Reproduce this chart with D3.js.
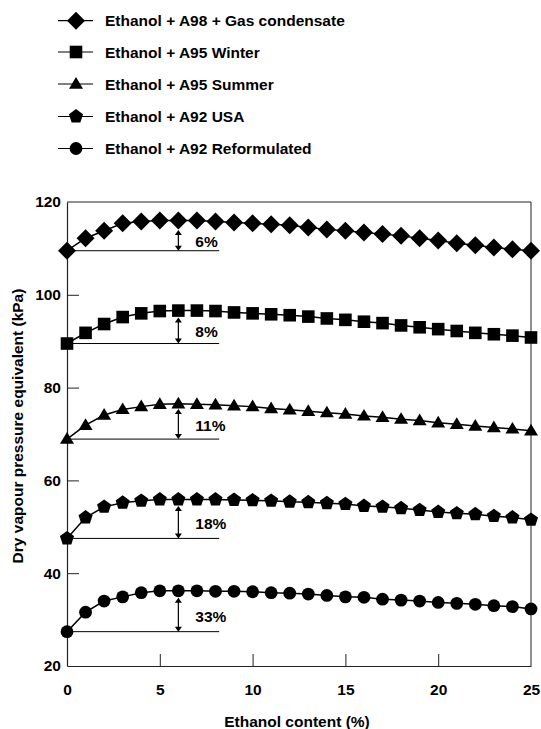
<!DOCTYPE html>
<html>
<head>
<meta charset="utf-8">
<script src="https://cdn.jsdelivr.net/npm/d3@7"></script>
<style>
  html, body { margin: 0; padding: 0; background: #fff; }
  svg { display: block; }
  text { font-family: "Liberation Sans", Arial, sans-serif; font-weight: bold; fill: #000; }
</style>
</head>
<body>
<svg id="chart" width="541" height="729"></svg>
<script>
const ethanol = [0,1,2,3,4,5,6,7,8,9,10,11,12,13,14,15,16,17,18,19,20,21,22,23,24,25];
const seriesNames = ["Ethanol + A98 + Gas condensate", "Ethanol + A95 Winter", "Ethanol + A95 Summer", "Ethanol + A92 USA", "Ethanol + A92 Reformulated"];
const a98Gas = [109.5,112.2,113.8,115.4,115.8,116.0,116.0,116.0,115.8,115.6,115.4,115.2,115.0,114.5,114.1,113.8,113.4,113.1,112.7,112.2,111.7,111.1,110.7,110.2,109.8,109.5];
const a95Winter = [89.5,91.8,93.7,95.2,96.0,96.5,96.6,96.6,96.5,96.2,96.0,95.8,95.6,95.3,94.9,94.6,94.2,93.9,93.4,93.0,92.6,92.2,91.8,91.5,91.2,90.8];
const a95Summer = [68.9,71.9,74.1,75.3,75.9,76.4,76.5,76.4,76.3,76.1,75.9,75.5,75.2,74.9,74.6,74.3,73.9,73.6,73.2,72.9,72.4,72.1,71.7,71.4,71.1,70.7];
const a92USA = [47.5,52.0,54.3,55.2,55.6,55.9,55.9,55.9,55.9,55.8,55.7,55.6,55.4,55.3,55.1,54.9,54.5,54.3,54.0,53.6,53.2,52.9,52.7,52.3,52.0,51.5];
const a92Reform = [27.4,31.6,34.0,34.9,35.8,36.2,36.2,36.2,36.1,36.1,36.0,35.8,35.7,35.5,35.2,34.9,34.8,34.4,34.2,34.0,33.7,33.5,33.3,33.0,32.8,32.3];
const increaseLabels = ["6%", "8%", "11%", "18%", "33%"];
const arrowAt = 6;
const baselineEnd = 8.2;
const xTicks = [0,5,10,15,20,25];
const yTicks = [20,40,60,80,100,120];
const xTitle = "Ethanol content (%)";
const yTitle = "Dry vapour pressure equivalent (kPa)";

const allSeries = [a98Gas, a95Winter, a95Summer, a92USA, a92Reform];

const svg = d3.select("#chart");
const L = 67, R = 531, T = 202, B = 666;
const x = d3.scaleLinear().domain([0,25]).range([L,R]);
const y = d3.scaleLinear().domain([20,120]).range([B,T]);

// marker shapes
const shapes = [
  {path: "M0,-9L9,0L0,9L-9,0Z", bottom: 9},
  {path: "M-6.3,-6.3H6.3V6.3H-6.3Z", bottom: 6.3},
  {path: "M0,-7L7,4.7L-7,4.7Z", bottom: 4.7},
  {path: (() => { const r = 7.4; const pts = d3.range(5).map(k => { const a = -Math.PI/2 + k*2*Math.PI/5; return [r*Math.cos(a), r*Math.sin(a)]; }); return "M" + pts.map(p => p[0].toFixed(2)+","+p[1].toFixed(2)).join("L") + "Z"; })(), bottom: 6},
  {path: d3.symbol(d3.symbolCircle, Math.PI*6.4*6.4)(), bottom: 6.4}
];

// frame (top and right)
svg.append("line").attr("x1", L).attr("x2", R).attr("y1", T).attr("y2", T).attr("stroke", "#222").attr("stroke-width", 1);
svg.append("line").attr("x1", R).attr("x2", R).attr("y1", T).attr("y2", B).attr("stroke", "#222").attr("stroke-width", 1);

// axes
const xAxis = d3.axisBottom(x).tickValues(xTicks).tickSize(0).tickPadding(18);
const gx = svg.append("g").attr("transform", `translate(0,${B})`).call(xAxis);
gx.select(".domain").attr("stroke", "#222").attr("stroke-width", 1.2);
gx.selectAll("text").style("font-size", "15.5px").attr("dy", "0.71em");
gx.selectAll(".tick").filter(d => d > 0 && d < 25).append("line").attr("y1", 0).attr("y2", -12).attr("stroke", "#222");

const yAxis = d3.axisLeft(y).tickValues(yTicks).tickSize(0).tickPadding(6);
const gy = svg.append("g").attr("transform", `translate(${L},0)`).call(yAxis);
gy.select(".domain").attr("stroke", "#222").attr("stroke-width", 1.2);
gy.selectAll("text").style("font-size", "15.5px");
gy.selectAll(".tick").filter(d => d > 20 && d < 120).append("line").attr("x1", 0).attr("x2", 12).attr("stroke", "#222");

// titles
svg.append("text").attr("x", (L+R)/2 - 2).attr("y", 727).attr("text-anchor", "middle").style("font-size", "15.5px").text(xTitle);
svg.append("text").attr("transform", `translate(23,426) rotate(-90)`).attr("text-anchor", "middle").style("font-size", "15.5px").text(yTitle);

// baselines, arrows, labels
allSeries.forEach((vals, i) => {
  const base = vals[0];
  const top = vals[arrowAt];
  svg.append("line").attr("x1", x(0)).attr("x2", x(baselineEnd)).attr("y1", y(base)).attr("y2", y(base)).attr("stroke", "#000").attr("stroke-width", 1);
  const ax = x(arrowAt);
  const y1 = y(top) + shapes[i].bottom + 0.5;
  const y2 = y(base);
  svg.append("line").attr("x1", ax).attr("x2", ax).attr("y1", y1 + 4).attr("y2", y2 - 4).attr("stroke", "#000").attr("stroke-width", 1.2);
  svg.append("path").attr("d", `M${ax},${y1}L${ax+3.5},${y1+5}L${ax-3.5},${y1+5}Z`).attr("fill", "#000");
  svg.append("path").attr("d", `M${ax},${y2}L${ax+3.5},${y2-5}L${ax-3.5},${y2-5}Z`).attr("fill", "#000");
  svg.append("text").attr("x", ax + 17).attr("y", (y1 + y2)/2 + 7).style("font-size", "15.5px").text(increaseLabels[i]);
});

// series lines and markers
const line = d3.line().x((d, j) => x(ethanol[j])).y(d => y(d));
allSeries.forEach((vals, i) => {
  svg.append("path").datum(vals).attr("d", line).attr("fill", "none").attr("stroke", "#000").attr("stroke-width", 1.5);
  svg.append("g").selectAll("path").data(vals).join("path")
    .attr("transform", (d, j) => `translate(${x(ethanol[j])},${y(d)})`)
    .attr("d", shapes[i].path).attr("fill", "#000");
});

// legend
const legY = [20.7, 52, 84, 116.5, 148.5];
seriesNames.forEach((name, i) => {
  const g = svg.append("g").attr("transform", `translate(0,${legY[i]})`);
  g.append("line").attr("x1", 58).attr("x2", 93).attr("y1", 0).attr("y2", 0).attr("stroke", "#000").attr("stroke-width", 1.2);
  g.append("path").attr("transform", "translate(76,0)").attr("d", shapes[i].path).attr("fill", "#000");
  g.append("text").attr("x", 105).attr("y", 0).attr("dy", "0.36em").style("font-size", "15.5px").text(name);
});
</script>
</body>
</html>
